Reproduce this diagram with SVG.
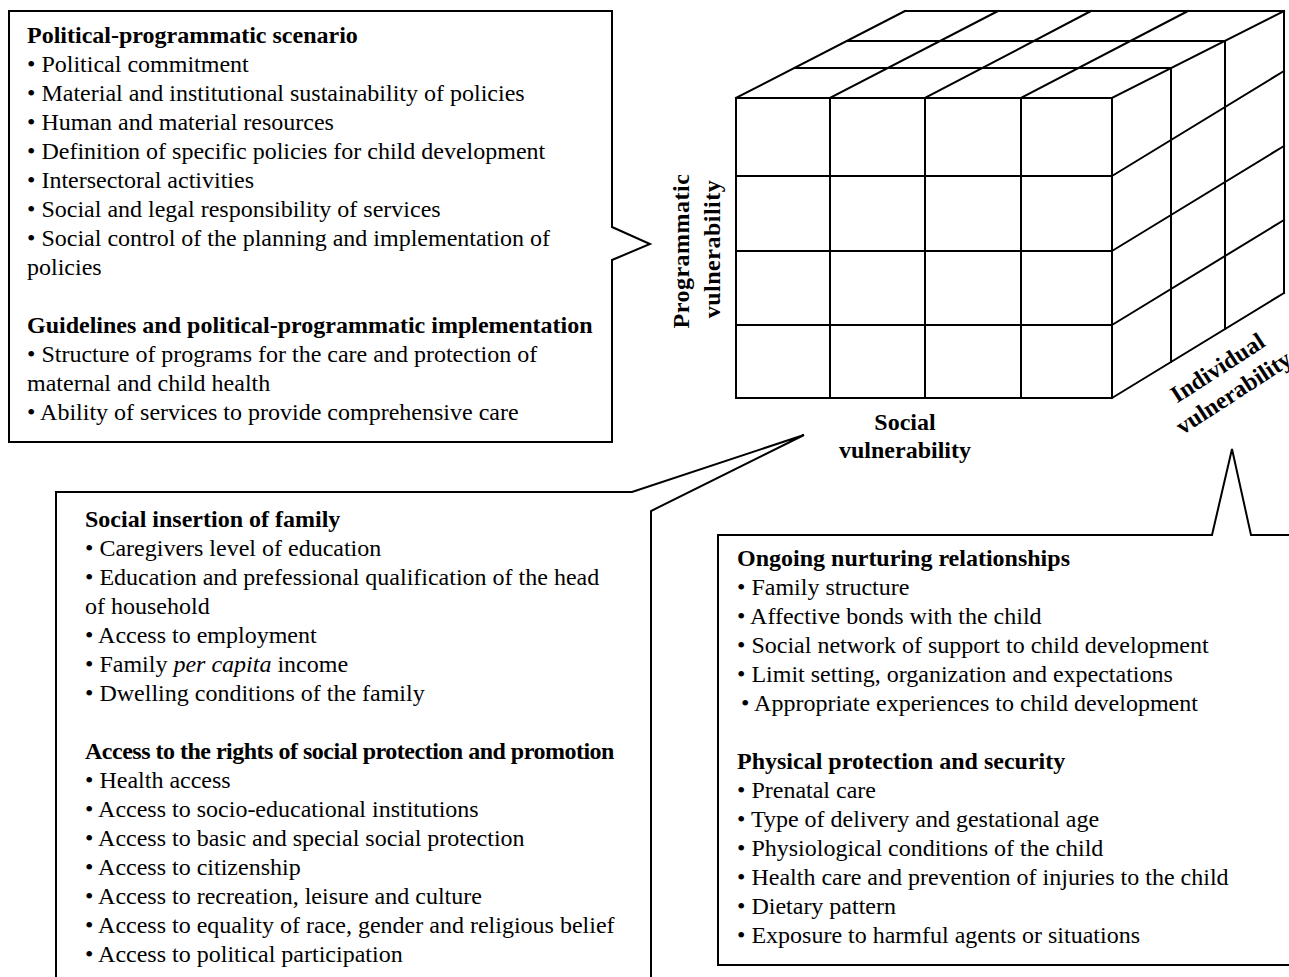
<svg xmlns="http://www.w3.org/2000/svg" width="1289" height="977" viewBox="0 0 1289 977">
<style>
.t{font-family:"Liberation Serif","Times New Roman",serif;font-size:24px;fill:#000}
.b{font-weight:bold}
.box{fill:#fff;stroke:#000;stroke-width:2;stroke-linejoin:miter}
.grid{fill:none;stroke:#000;stroke-width:2;stroke-linecap:square}
</style>
<rect width="1289" height="977" fill="#fff"/>
<g id="cube" class="grid">
<path d="M736,98H1112V398H736Z"/>
<path d="M830,98V398M925,98V398M1021,98V398"/>
<path d="M736,176H1112M736,251H1112M736,325H1112"/>
<path d="M736,98L905,11M830,98L998,11M925,98L1091,11M1021,98L1188,11M1112,98L1284,11"/>
<path d="M795,68H1171M847,41H1225M905,11H1284"/>
<path d="M1171,68V362M1225,41V329M1284,11V293"/>
<path d="M1112,176L1284,71M1112,251L1284,146M1112,325L1284,220M1112,398L1284,293"/>
</g>
<g id="axis-labels" class="t b">
<text transform="translate(689,251) rotate(-90)" text-anchor="middle" letter-spacing="0.5">Programmatic</text>
<text transform="translate(720,249) rotate(-90)" text-anchor="middle" letter-spacing="0.5">vulnerability</text>
<text x="905" y="429.5" text-anchor="middle">Social</text>
<text x="905" y="458.3" text-anchor="middle">vulnerability</text>
<g transform="translate(1226,381) rotate(-33)">
<text x="0" y="-7.7" text-anchor="middle">Individual</text>
<text x="0" y="21.7" text-anchor="middle">vulnerability</text>
</g>
</g>
<g id="box-programmatic">
<path class="box" d="M9,11H612V227L650,244L612,260V442H9Z"/>
<g class="t">
<text x="27" y="42.5" class="b">Political-programmatic scenario</text>
<text x="27" y="71.5">• Political commitment</text>
<text x="27" y="100.5">• Material and institutional sustainability of policies</text>
<text x="27" y="129.5">• Human and material resources</text>
<text x="27" y="158.5">• Definition of specific policies for child development</text>
<text x="27" y="187.5">• Intersectoral activities</text>
<text x="27" y="216.5">• Social and legal responsibility of services</text>
<text x="27" y="245.5">• Social control of the planning and implementation of</text>
<text x="27" y="274.5">policies</text>
<text x="27" y="332.5" class="b">Guidelines and political-programmatic implementation</text>
<text x="27" y="361.5">• Structure of programs for the care and protection of</text>
<text x="27" y="390.5">maternal and child health</text>
<text x="27" y="419.5">• Ability of services to provide comprehensive care</text>
</g>
</g>
<g id="box-social">
<path class="box" d="M56,492H632L804,435L651,511V995H56Z"/>
<g class="t">
<text x="85" y="527" class="b">Social insertion of family</text>
<text x="85" y="556">• Caregivers level of education</text>
<text x="85" y="585">• Education and prefessional qualification of the head</text>
<text x="85" y="614">of household</text>
<text x="85" y="643">• Access to employment</text>
<text x="85" y="672">• Family <tspan font-style="italic">per capita</tspan> income</text>
<text x="85" y="701">• Dwelling conditions of the family</text>
<text x="85" y="759" class="b" letter-spacing="-0.5">Access to the rights of social protection and promotion</text>
<text x="85" y="788">• Health access</text>
<text x="85" y="817">• Access to socio-educational institutions</text>
<text x="85" y="846">• Access to basic and special social protection</text>
<text x="85" y="875">• Access to citizenship</text>
<text x="85" y="904">• Access to recreation, leisure and culture</text>
<text x="85" y="933">• Access to equality of race, gender and religious belief</text>
<text x="85" y="962">• Access to political participation</text>
</g>
</g>
<g id="box-individual">
<path class="box" d="M718,535H1212L1232,449L1251,535H1300V965H718Z"/>
<g class="t">
<text x="737" y="566" class="b">Ongoing nurturing relationships</text>
<text x="737" y="595">• Family structure</text>
<text x="737" y="624">• Affective bonds with the child</text>
<text x="737" y="653">• Social network of support to child development</text>
<text x="737" y="682">• Limit setting, organization and expectations</text>
<text x="741" y="711">• Appropriate experiences to child development</text>
<text x="737" y="769" class="b">Physical protection and security</text>
<text x="737" y="798">• Prenatal care</text>
<text x="737" y="827">• Type of delivery and gestational age</text>
<text x="737" y="856">• Physiological conditions of the child</text>
<text x="737" y="885">• Health care and prevention of injuries to the child</text>
<text x="737" y="914">• Dietary pattern</text>
<text x="737" y="943">• Exposure to harmful agents or situations</text>
</g>
</g>
</svg>
